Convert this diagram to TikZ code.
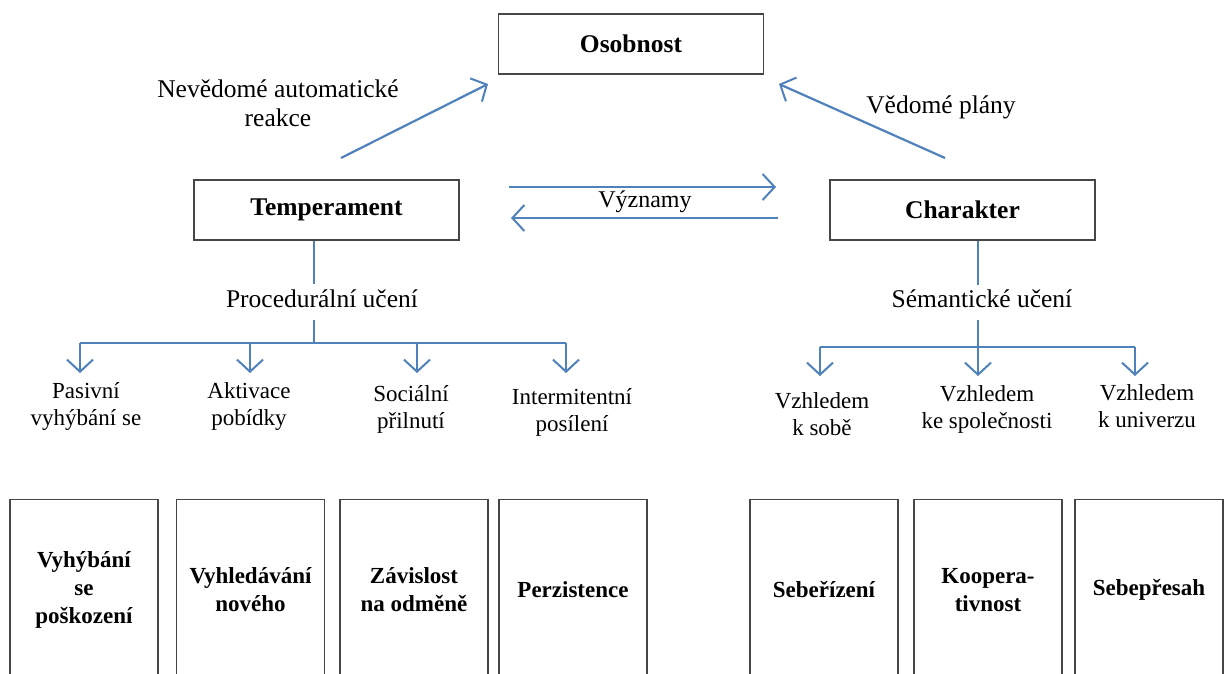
\documentclass[tikz,border=0pt]{standalone}
\usepackage{fontspec}
\setmainfont{Liberation Serif}
\usetikzlibrary{arrows.meta}
\definecolor{arr}{RGB}{79,129,189}
\definecolor{bord}{RGB}{70,70,70}
\tikzset{
  box/.style={draw=bord, line width=1.4pt, minimum width=265pt, minimum height=60pt, inner sep=0pt, font=\fontsize{25.5}{29}\selectfont\bfseries},
  trait/.style={draw=bord, line width=1.4pt, minimum width=148pt, minimum height=180pt, inner sep=0pt, align=center, font=\fontsize{23}{28}\selectfont\bfseries},
  conn/.style={draw=arr, line width=2.2pt},
  arrow/.style={conn, -{Straight Barb[length=12pt,width=26pt,line width=2pt]}},
  lbl/.style={font=\fontsize{25.5}{29}\selectfont, align=center, inner sep=0pt},
  midlbl/.style={font=\fontsize{24}{28}\selectfont, align=center, inner sep=0pt},
  leaf/.style={font=\fontsize{23}{27}\selectfont, align=center, inner sep=0pt},
}
\begin{document}
\begin{tikzpicture}[x=1pt,y=-1pt]
\useasboundingbox[fill=white] (0,0) rectangle (1224,674);
\clip (0,0) rectangle (1224,674);
% main boxes
\node[box] (os) at (631,44) {Osobnost};
\node[box] (tem) at (326.5,210) {Temperament};
\node[box] (cha) at (962.5,210) {Charakter};
% top labels
\node[lbl] (nev) at (278,103) {Nevědomé automatické\\reakce};
\node[lbl] (ved) at (941,107) {Vědomé plány};
\node[midlbl] (vyz) at (645,202) {Významy};
% diagonal arrows
\coordinate (a1s) at (341,158);
\coordinate (a1e) at (488,84);
\coordinate (a2s) at (945,158);
\coordinate (a2e) at (779,84);
\draw[arrow] (a1s) -- (a1e);
\draw[arrow] (a2s) -- (a2e);
% významy arrows
\coordinate (v1s) at (509,187);
\coordinate (v1e) at (776,187);
\coordinate (v2s) at (778,218);
\coordinate (v2e) at (511,218);
\draw[arrow] (v1s) -- (v1e);
\draw[arrow] (v2s) -- (v2e);
% procedural learning tree
\node[lbl] (proc) at (322,299) {Procedurální učení};
\coordinate (pt) at (314,284);
\coordinate (pb) at (314,320);
\coordinate (pj) at (314,343);
\coordinate (pl) at (80,343);
\coordinate (pr) at (566,343);
\draw[conn] (tem.south -| pt) -- (pt);
\draw[conn] (pb) -- (pj);
\draw[conn] (pl) -- (pr);
\foreach \x/\n in {80/l1,250/l2,417/l3,566/l4}{
  \coordinate (\n s) at (\x,343);
  \coordinate (\n e) at (\x,373);
  \draw[arrow] (\n s) -- (\n e);
}
\node[leaf] (pas) at (86,406) {Pasivní\\vyhýbání se};
\node[leaf] (akt) at (249,407) {Aktivace\\pobídky};
\node[leaf] (soc) at (411,409) {Sociální\\přilnutí};
\node[leaf] (int) at (572,412) {Intermitentní\\posílení};
% semantic learning tree
\node[lbl] (sem) at (982,299) {Sémantické učení};
\coordinate (st) at (978,285);
\coordinate (sb) at (978,320);
\coordinate (sj) at (978,347);
\coordinate (sl) at (820,347);
\coordinate (sr) at (1135,347);
\draw[conn] (cha.south -| st) -- (st);
\draw[conn] (sb) -- (sj);
\draw[conn] (sl) -- (sr);
\foreach \x/\n in {820/r1,978/r2,1135/r3}{
  \coordinate (\n s) at (\x,347);
  \coordinate (\n e) at (\x,376);
  \draw[arrow] (\n s) -- (\n e);
}
\node[leaf] (kso) at (822,414) {Vzhledem\\k sobě};
\node[leaf] (ksp) at (987,409) {Vzhledem\\ke společnosti};
\node[leaf] (kun) at (1147,406) {Vzhledem\\k univerzu};
% trait boxes
\node[trait, anchor=north] (t1) at (84,499) {Vyhýbání\\se\\poškození};
\node[trait, anchor=north] (t2) at (250.5,499) {Vyhledávání\\nového};
\node[trait, anchor=north] (t3) at (414,499) {Závislost\\na odměně};
\node[trait, anchor=north] (t4) at (573,499) {Perzistence};
\node[trait, anchor=north] (t5) at (824,499) {Sebeřízení};
\node[trait, anchor=north] (t6) at (988,499) {Koopera-\\tivnost};
\node[trait, anchor=north] (t7) at (1149,499) {Sebepřesah};
\end{tikzpicture}
\end{document}
